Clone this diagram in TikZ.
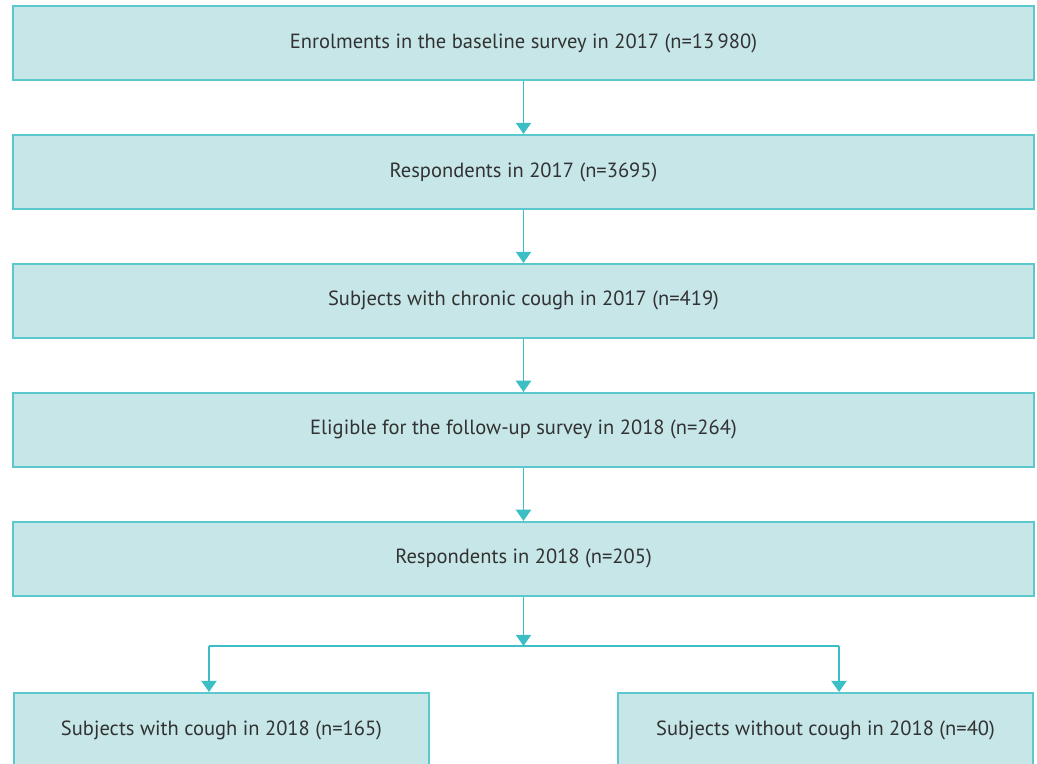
\documentclass[tikz,border=0pt]{standalone}
\usepackage{fontspec}
\setmainfont{PT Sans}
\usetikzlibrary{arrows.meta, positioning}

\begin{document}
\begin{tikzpicture}[
    every node/.style={font=\fontsize{14.6}{17}\selectfont},
    flowbox/.style={draw=boxline, fill=boxfill, line width=1.4pt, text=txtcolor,
        minimum width=25.525cm, minimum height=1.85cm, inner sep=0pt},
    endbox/.style={flowbox, minimum width=10.375cm},
    flowarrow/.style={draw=arrowcolor, line width=1.3pt, -{Triangle[width=0.38cm, length=0.28cm]}},
    node distance=1.325cm
  ]
    % Define consistent colors
    \definecolor{boxfill}{RGB}{198,230,232}
    \definecolor{boxline}{RGB}{91,200,206}
    \definecolor{arrowcolor}{RGB}{59,190,196}
    \definecolor{txtcolor}{RGB}{50,50,50}

    % Frame of the picture
    \useasboundingbox (0,0) rectangle (25.925,-19.075);
    \clip (0,0) rectangle (25.925,-19.075);

    % Main column of boxes
    \node[flowbox] (enrol) at (13.0875,-1.075) {Enrolments in the baseline survey in 2017 (n=13\,980)};
    \node[flowbox, below=of enrol] (resp17) {Respondents in 2017 (n=3695)};
    \node[flowbox, below=of resp17] (chronic) {Subjects with chronic cough in 2017 (n=419)};
    \node[flowbox, below=of chronic] (eligible) {Eligible for the follow-up survey in 2018 (n=264)};
    \node[flowbox, below=of eligible] (resp18) {Respondents in 2018 (n=205)};

    % Outcome boxes
    \node[endbox, anchor=north west] (cough) at (0.325,-17.3) {Subjects with cough in 2018 (n=165)};
    \node[endbox, anchor=north east] (nocough) at (25.85,-17.3) {Subjects without cough in 2018 (n=40)};

    % Split point
    \coordinate (split) at (resp18.south |- 0,-16.15);
    \coordinate (splitL) at (5.225,-16.15);
    \coordinate (splitR) at (20.975,-16.15);

    % Arrows
    \draw[flowarrow] (enrol) -- (resp17);
    \draw[flowarrow] (resp17) -- (chronic);
    \draw[flowarrow] (chronic) -- (eligible);
    \draw[flowarrow] (eligible) -- (resp18);
    \draw[flowarrow] (resp18) -- (split);
    \draw[draw=arrowcolor, line width=1.3pt] (splitL) -- (splitR);
    \draw[flowarrow] (splitL) -- (splitL |- cough.north);
    \draw[flowarrow] (splitR) -- (splitR |- nocough.north);
\end{tikzpicture}
\end{document}
